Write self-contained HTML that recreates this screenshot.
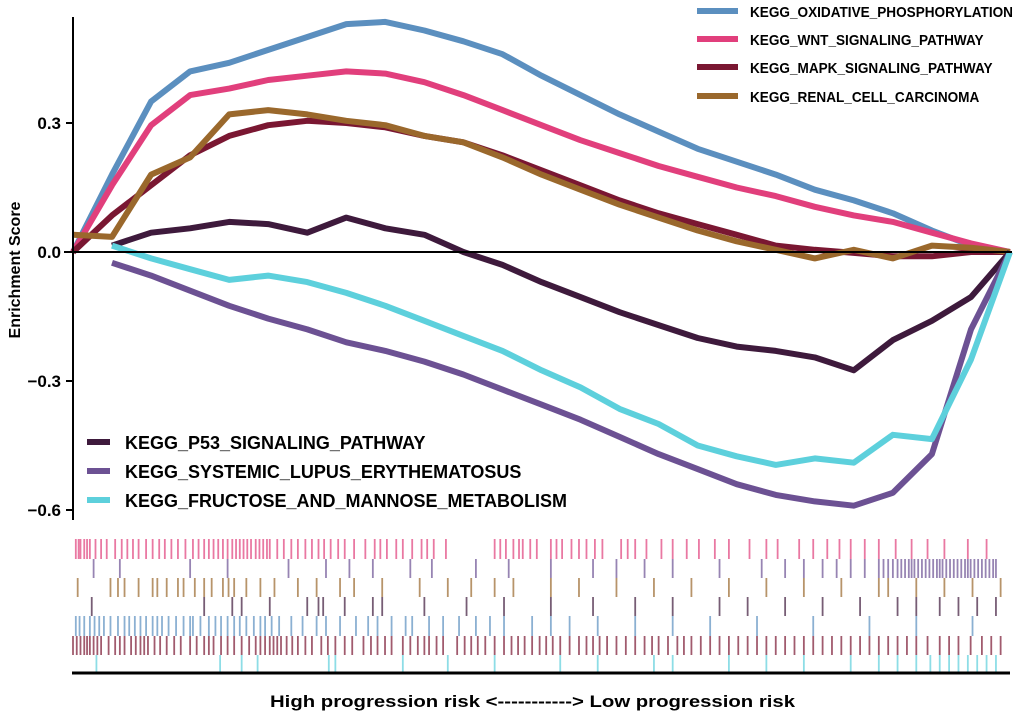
<!DOCTYPE html>
<html><head><meta charset="utf-8">
<style>
body{margin:0;background:#fff;}
svg{display:block;font-family:"Liberation Sans",Arial,sans-serif;font-weight:bold;}
</style></head>
<body>
<svg id="chart" width="1020" height="716" viewBox="0 0 1020 716">
<g id="rug"></g>
<g id="lines"></g>
<line x1="73" y1="17" x2="73" y2="520" stroke="#000" stroke-width="2"/>
<line x1="64" y1="252" x2="1012" y2="252" stroke="#000" stroke-width="2"/>
<g id="yticks"></g>
<text transform="translate(20,270) rotate(-90)" text-anchor="middle" font-size="16">Enrichment Score</text>
<line x1="72" y1="673" x2="1010" y2="673" stroke="#000" stroke-width="3"/>
<text x="270" y="707" font-size="17" textLength="525" lengthAdjust="spacingAndGlyphs">High progression risk &lt;-----------&gt; Low progression risk</text>
<g id="legend"></g>
</svg>
<script>
const ranks = [0,1,2,3,4,5,6,7,8,9,10,11,12,13,14,15,16,17,18,19,20,21,22,23,24];
const names = ["KEGG_OXIDATIVE_PHOSPHORYLATION","KEGG_WNT_SIGNALING_PATHWAY","KEGG_MAPK_SIGNALING_PATHWAY","KEGG_RENAL_CELL_CARCINOMA","KEGG_P53_SIGNALING_PATHWAY","KEGG_SYSTEMIC_LUPUS_ERYTHEMATOSUS","KEGG_FRUCTOSE_AND_MANNOSE_METABOLISM"];
const colors = ["#5b8fbf","#e13f7c","#7a1732","#9a682c","#3e1a3c","#6c5193","#5dd0dc"];
const esOxidative = [0,.18,.35,.42,.44,.47,.50,.53,.535,.515,.49,.46,.41,.365,.32,.28,.24,.21,.18,.145,.12,.09,.05,.015,0];
const esWnt = [0,.155,.295,.365,.38,.40,.41,.42,.415,.395,.365,.33,.295,.26,.23,.20,.175,.15,.13,.105,.085,.07,.045,.02,0];
const esMapk = [0,.085,.155,.225,.27,.295,.305,.30,.29,.27,.255,.225,.19,.155,.12,.09,.065,.04,.015,.005,-.002,-.01,-.01,0,0];
const esRenal = [.04,.035,.18,.22,.32,.33,.32,.305,.295,.27,.255,.22,.18,.145,.11,.08,.05,.025,.005,-.015,.005,-.015,.015,.01,0];
const esP53 = [null,.015,.045,.055,.07,.065,.045,.08,.055,.04,0,-.03,-.07,-.105,-.14,-.17,-.2,-.22,-.23,-.245,-.275,-.205,-.16,-.105,0];
const esSle = [null,-.025,-.055,-.09,-.125,-.155,-.18,-.21,-.23,-.255,-.285,-.32,-.355,-.39,-.43,-.47,-.505,-.54,-.565,-.58,-.59,-.56,-.47,-.18,0];
const esFructose = [null,.015,-.015,-.04,-.065,-.055,-.07,-.095,-.125,-.16,-.195,-.23,-.275,-.315,-.365,-.40,-.45,-.475,-.495,-.48,-.49,-.425,-.435,-.25,0];
const yTicks = [0.3,0.0,-0.3,-0.6];
const yTickLabels = ["0.3","0.0","\u22120.3","\u22120.6"];
// hit positions as fraction of ranked list (0..1000)
const hitsWnt = [3,6,8,12,15,18,24,30,36,45,52,58,64,70,78,85,92,98,105,112,120,128,134,140,145,150,155,160,165,170,174,178,182,186,190,195,199,203,207,210,218,225,233,240,248,255,262,268,275,283,290,300,312,322,328,335,345,352,362,372,378,385,398,450,456,462,470,476,480,488,495,510,516,522,532,540,548,557,565,585,592,600,612,628,640,655,668,685,700,722,740,752,775,790,805,818,830,845,860,878,895,912,930,955,975];
const hitsSle = [22,50,125,165,230,270,295,320,360,383,430,465,510,555,580,610,640,690,735,760,780,800,815,830,845,860,865,870,875,880,884,888,892,895,898,902,906,910,914,918,922,925,928,932,936,940,944,948,952,955,958,962,966,970,974,978,982,985];
const hitsRenal = [5,40,48,55,70,85,90,100,112,118,130,140,148,160,166,172,185,200,215,240,260,285,300,330,370,400,425,450,470,510,540,580,620,660,700,740,780,820,860,870,900,930,960,990];
const hitsP53 = [20,140,170,180,210,250,262,267,290,320,330,375,420,460,510,555,600,640,690,720,760,800,840,880,900,925,945,965,985];
const hitsOxi = [3,7,12,18,23,28,33,40,48,55,60,66,72,78,85,90,95,102,110,118,125,128,136,145,152,158,165,172,178,185,193,200,205,212,220,233,245,260,270,285,302,315,325,340,355,362,380,395,412,430,445,460,490,510,530,560,600,640,680,730,790,850,900,960];
const hitsMaroon = [0,4,8,12,15,18,22,26,30,38,45,50,55,62,67,72,76,80,87,93,100,108,115,125,132,140,145,150,158,165,172,180,188,195,200,205,210,214,218,222,228,234,240,248,255,265,272,280,290,298,310,318,325,333,340,352,360,368,375,380,388,395,410,418,425,432,440,450,460,468,475,482,490,498,505,512,520,530,540,548,555,562,570,580,590,600,610,618,625,635,645,652,660,670,680,690,700,710,720,730,740,750,760,770,780,790,800,810,820,830,840,850,860,870,880,890,900,912,925,935,945,958,970,980,990];
const hitsFructose = [25,157,180,197,273,280,352,400,450,520,560,620,640,700,740,780,830,860,880,900,915,925,935,945,955,965,975,985];

const NS="http://www.w3.org/2000/svg";
const X0=73,X1=1010,Y0=252,K=430;
function xRank(i){return X0+i*(X1-X0)/(ranks.length-1);}
function yES(v){return Y0-v*K;}
function xHit(f){return X0+f*(X1-X0)/1000;}
function mk(t,a){const e=document.createElementNS(NS,t);for(const k in a)e.setAttribute(k,a[k]);return e;}

const yt=document.getElementById('yticks');
yTicks.forEach((v,i)=>{
  const l=mk('line',{x1:66,x2:73,y1:yES(v),y2:yES(v),stroke:'#000','stroke-width':2});
  
  
  yt.appendChild(l);
  const t=mk('text',{x:61,y:yES(v)+6,'text-anchor':'end','font-size':17});
  t.textContent=yTickLabels[i];
  
  
  yt.appendChild(t);
});

const series=[esOxidative,esWnt,esMapk,esRenal,esP53,esSle,esFructose];
const lg=document.getElementById('lines');
series.forEach((s,si)=>{
  let d='';
  s.forEach((v,i)=>{ if(v===null)return; d+=(d?'L':'M')+xRank(i).toFixed(1)+','+yES(v).toFixed(1);});
  const p=mk('path',{d:d,fill:'none',stroke:colors[si],'stroke-width':6,'stroke-linejoin':'round'});
  
  
  lg.appendChild(p);
});

const rows=[[hitsWnt,1,539,559],[hitsSle,5,559,578],[hitsRenal,3,578,597],[hitsP53,4,597,616],[hitsOxi,0,616,636],[hitsMaroon,2,636,655],[hitsFructose,6,655,672]];
const rg=document.getElementById('rug');
rows.forEach(r=>{
  r[0].forEach(f=>{
    const l=mk('line',{x1:xHit(f),x2:xHit(f),y1:r[2],y2:r[3],stroke:colors[r[1]],'stroke-width':1.8,opacity:0.7});
    
    
    rg.appendChild(l);
  });
});

const leg=document.getElementById('legend');
const legPos=[[697,41,750,11],[697,41,750,39],[697,41,750,67],[697,41,750,96],[87,23,125,442],[87,23,125,471],[87,23,125,500]];
const texts=[];
names.forEach((n,i)=>{
  const [x,w,tx,y]=legPos[i];
  const l=mk('line',{x1:x,x2:x+w,y1:y,y2:y,stroke:colors[i],'stroke-width':6});
  
  
  leg.appendChild(l);
  const t=mk('text',{x:tx,y:y+(i<4?6:7),'font-size':i<4?15:18});
  t.textContent=n;
  
  
  leg.appendChild(t);
  texts.push(t);
});
const fTop=263/texts[0].getComputedTextLength();
const fBot=442/texts[6].getComputedTextLength();
texts.forEach((t,i)=>{
  const f=i<4?fTop:fBot;
  t.setAttribute('textLength',(t.getComputedTextLength()*f).toFixed(1));
  t.setAttribute('lengthAdjust','spacingAndGlyphs');
});
</script>
</body></html>
